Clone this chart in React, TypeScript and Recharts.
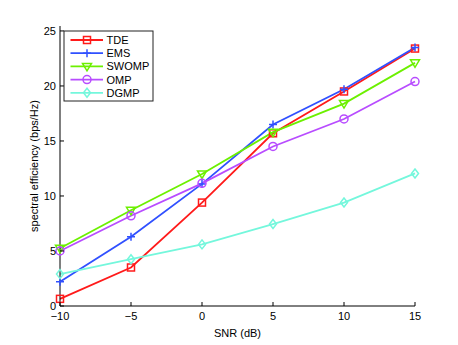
import React from 'react';
import { LineChart, Line, XAxis, YAxis } from 'recharts';

const snr = [-10, -5, 0, 5, 10, 15];
const tde = [0.65, 3.5, 9.4, 15.7, 19.5, 23.4];
const ems = [2.2, 6.3, 11.1, 16.5, 19.7, 23.5];
const swomp = [5.25, 8.7, 12.0, 15.8, 18.4, 22.1];
const omp = [5.0, 8.2, 11.15, 14.5, 17.0, 20.4];
const dgmp = [2.9, 4.25, 5.6, 7.45, 9.4, 12.05];

const xTicks = [-10, -5, 0, 5, 10, 15];
const yTicks = [0, 5, 10, 15, 20, 25];

const seriesNames = ['TDE', 'EMS', 'SWOMP', 'OMP', 'DGMP'];
const seriesValues = [tde, ems, swomp, omp, dgmp];
const seriesColors = ['#ff1a1a', '#3050ff', '#6cf000', '#b84cff', '#74f7dc'];
const seriesMarkers = ['square', 'plus', 'triangle', 'circle', 'diamond'];

const data = snr.map((s, i) => {
  const row: Record<string, number> = { snr: s };
  seriesNames.forEach((n, k) => {
    row[n] = seriesValues[k][i];
  });
  return row;
});

const FONT = '"Liberation Sans", Arial, Helvetica, sans-serif';

function Marker({ shape, cx, cy, color }: { shape: string; cx: number; cy: number; color: string }) {
  const common = { fill: 'none', stroke: color, strokeWidth: 1.5 };
  switch (shape) {
    case 'square':
      return <rect x={cx - 3.5} y={cy - 3.5} width={7} height={7} {...common} />;
    case 'plus':
      return (
        <g {...common}>
          <line x1={cx - 4} y1={cy} x2={cx + 4} y2={cy} />
          <line x1={cx} y1={cy - 4} x2={cx} y2={cy + 4} />
        </g>
      );
    case 'triangle':
      return <polygon points={`${cx - 4.5},${cy - 3} ${cx + 4.5},${cy - 3} ${cx},${cy + 4.5}`} {...common} />;
    case 'circle':
      return <circle cx={cx} cy={cy} r={4} {...common} />;
    case 'diamond':
      return <polygon points={`${cx},${cy - 4.5} ${cx + 3.5},${cy} ${cx},${cy + 4.5} ${cx - 3.5},${cy}`} {...common} />;
    default:
      return null;
  }
}

const makeDot = (shape: string, color: string) => (props: any) => {
  const { cx, cy, index } = props;
  if (cx == null || cy == null) return <g key={index} />;
  return (
    <g key={index}>
      <Marker shape={shape} cx={cx} cy={cy} color={color} />
    </g>
  );
};

const fmt = (v: number) => String(v).replace('-', '\u2212');

const BottomTick = (props: any) => {
  const { x, y, payload } = props;
  return (
    <g>
      <line x1={x} y1={y} x2={x} y2={y - 4} stroke="#000" strokeWidth={1} />
      <text x={x} y={y + 14} textAnchor="middle" fontSize={11} fontFamily={FONT} fill="#000">
        {fmt(payload.value)}
      </text>
    </g>
  );
};

const LeftTick = (props: any) => {
  const { x, y, payload } = props;
  return (
    <g>
      <line x1={x} y1={y} x2={x + 4} y2={y} stroke="#000" strokeWidth={1} />
      <text x={x - 4} y={y + 4} textAnchor="end" fontSize={11} fontFamily={FONT} fill="#000">
        {fmt(payload.value)}
      </text>
    </g>
  );
};

const TopTick = (props: any) => {
  const { x, y } = props;
  return <line x1={x} y1={y} x2={x} y2={y + 4} stroke="#555" strokeWidth={1} />;
};

const RightTick = (props: any) => {
  const { x, y } = props;
  return <line x1={x} y1={y} x2={x - 4} y2={y} stroke="#555" strokeWidth={1} />;
};

function LegendBox() {
  const rowH = 13.2;
  return (
    <svg width={92} height={72} style={{ position: 'absolute', left: 63, top: 30 }}>
      <rect x={1} y={1} width={89} height={70} fill="#fff" stroke="#222" strokeWidth={1} />
      {seriesNames.map((n, i) => {
        const y = 10 + i * rowH;
        return (
          <g key={n}>
            <line x1={7.5} y1={y} x2={40} y2={y} stroke={seriesColors[i]} strokeWidth={1.8} />
            <Marker shape={seriesMarkers[i]} cx={24} cy={y} color={seriesColors[i]} />
            <text x={43.5} y={y + 4} fontSize={11} fontFamily={FONT} fill="#000">
              {n}
            </text>
          </g>
        );
      })}
    </svg>
  );
}

export default function App() {
  return (
    <div style={{ position: 'absolute', left: 0, top: 0, width: 458, height: 345, background: '#fff' }}>
      <LineChart
        width={458}
        height={345}
        data={data}
        margin={{ top: 26, right: 43, bottom: 0, left: 0 }}
        style={{ fontFamily: FONT }}
      >
        <XAxis
          xAxisId="b"
          dataKey="snr"
          type="number"
          domain={[-10, 15]}
          ticks={xTicks}
          height={39}
          tickSize={0}
          tickMargin={0}
          tickLine={false}
          axisLine={{ stroke: '#000', strokeWidth: 1 }}
          tick={<BottomTick />}
          interval={0}
          label={{
            value: 'SNR (dB)',
            content: (p: any) => {
              const vb = p.viewBox;
              return (
                <text x={vb.x + vb.width / 2} y={337} textAnchor="middle" fontSize={11} fontFamily={FONT} fill="#000">
                  SNR (dB)
                </text>
              );
            },
          }}
        />
        <XAxis
          xAxisId="t"
          dataKey="snr"
          type="number"
          orientation="top"
          domain={[-10, 15]}
          ticks={xTicks}
          height={0}
          tickSize={0}
          tickMargin={0}
          tickLine={false}
          axisLine={{ stroke: '#555', strokeWidth: 1 }}
          tick={<TopTick />}
          interval={0}
        />
        <YAxis
          yAxisId="l"
          type="number"
          domain={[0, 25.45]}
          allowDataOverflow
          ticks={yTicks}
          width={60}
          tickSize={0}
          tickMargin={0}
          tickLine={false}
          axisLine={{ stroke: '#000', strokeWidth: 1 }}
          tick={<LeftTick />}
          interval={0}
          label={{
            value: 'spectral efficiency (bps/Hz)',
            content: (p: any) => {
              const vb = p.viewBox;
              const cy = vb.y + vb.height / 2;
              return (
                <text
                  x={37.5}
                  y={cy}
                  transform={`rotate(-90 37.5 ${cy})`}
                  textAnchor="middle"
                  fontSize={11}
                  fontFamily={FONT}
                  fill="#000"
                >
                  spectral efficiency (bps/Hz)
                </text>
              );
            },
          }}
        />
        <YAxis
          yAxisId="r"
          type="number"
          orientation="right"
          domain={[0, 25.45]}
          allowDataOverflow
          ticks={yTicks}
          width={0}
          tickSize={0}
          tickMargin={0}
          tickLine={false}
          axisLine={{ stroke: '#777', strokeWidth: 1 }}
          tick={<RightTick />}
          interval={0}
        />
        {seriesNames.map((n, i) => (
          <Line
            key={n}
            xAxisId="b"
            yAxisId="l"
            dataKey={n}
            type="linear"
            stroke={seriesColors[i]}
            strokeWidth={1.8}
            dot={makeDot(seriesMarkers[i], seriesColors[i])}
            activeDot={false}
            isAnimationActive={false}
          />
        ))}
      </LineChart>
      <LegendBox />
    </div>
  );
}
